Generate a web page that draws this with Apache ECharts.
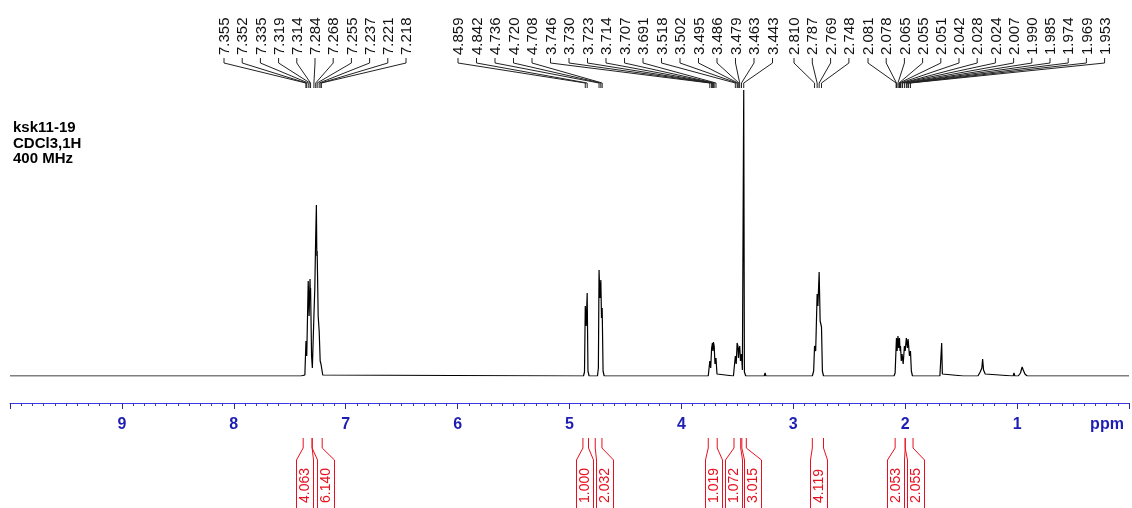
<!DOCTYPE html>
<html>
<head>
<meta charset="utf-8">
<script src="https://cdn.jsdelivr.net/npm/echarts@6/dist/echarts.min.js"></script>
<style>
html,body{margin:0;padding:0;background:#fff;}
#c{width:1132px;height:508px;}
</style>
</head>
<body>
<div id="c"></div>
<script>
// ---- data (ppm, intensity) ----
const spectrum = [
  [10.0,0],[7.40,0],[7.365,1],[7.355,35],[7.348,20],[7.335,95],[7.327,60],[7.319,97],[7.316,82],[7.314,88],[7.305,20],[7.298,8],
  [7.292,10],[7.284,60],[7.276,88],[7.268,140],[7.262,171],[7.258,120],[7.255,125],[7.246,60],[7.237,45],[7.228,15],[7.221,12],[7.218,10],[7.205,1],[7.19,0],
  [4.875,0],[4.866,4],[4.859,70],[4.851,50],[4.842,83],[4.835,5],[4.825,0],
  [4.75,0],[4.742,8],[4.736,106],[4.728,78],[4.720,96],[4.714,58],[4.708,68],[4.700,5],[4.69,0],
  [3.76,0],[3.746,15],[3.738,8],[3.730,28],[3.723,33],[3.718,25],[3.714,34],[3.707,30],[3.700,12],[3.691,18],[3.682,2],[3.67,0],
  [3.535,0],[3.518,20],[3.510,12],[3.502,33],[3.495,30],[3.490,18],[3.486,26],[3.479,30],[3.472,15],[3.463,22],[3.455,6],[3.449,4],[3.443,286],[3.437,4],[3.425,0],
  [3.26,0],[3.252,3],[3.245,0],
  [2.83,0],[2.818,5],[2.810,30],[2.800,25],[2.787,82],[2.780,70],[2.769,104],[2.760,55],[2.748,49],[2.740,5],[2.73,0],
  [2.10,0],[2.090,3],[2.081,30],[2.078,38],[2.072,25],[2.065,40],[2.058,28],[2.055,35],[2.051,38],[2.046,25],[2.042,30],[2.035,15],
  [2.028,22],[2.024,20],[2.018,12],[2.007,30],[2.000,25],[1.990,38],[1.985,40],[1.980,28],[1.974,37],[1.969,39],[1.962,20],[1.953,25],[1.945,5],[1.935,0],
  [1.69,0],[1.68,2],[1.674,33],[1.668,2],[1.66,0],
  [1.48,0],[1.472,2],[1.465,0],
  [1.35,0],[1.33,4],[1.315,8],[1.308,17],[1.300,6],[1.285,2],[1.27,0],
  [1.035,0],[1.028,3],[1.02,0],
  [0.99,0],[0.97,3],[0.955,9],[0.945,6],[0.93,2],[0.91,0],[0.0,0]
];
const shiftsA = [7.355,7.352,7.335,7.319,7.314,7.284,7.268,7.255,7.237,7.221,7.218];
const shiftsB = [4.859,4.842,4.736,4.720,4.708,3.746,3.730,3.723,3.714,3.707,3.691,3.518,3.502,3.495,3.486,3.479,3.463,3.443];
const shiftsC = [2.810,2.787,2.769,2.748];
const shiftsD = [2.081,2.078,2.065,2.055,2.051,2.042,2.028,2.024,2.007,1.990,1.985,1.974,1.969,1.953];
const integralLabels = ['4.063','6.140','1.000','2.032','1.019','1.072','3.015','4.119','2.053','2.055'];
const integralRanges = [[7.38,7.30],[7.30,7.21],[4.88,4.83],[4.77,4.71],[3.76,3.68],[3.53,3.47],[3.46,3.42],[2.83,2.73],[2.09,2.00],[2.00,1.93]];
const titleLines = ['ksk11-19','CDCl3,1H','400 MHz'];
const tickLabels = {1:'1',2:'2',3:'3',4:'4',5:'5',6:'6',7:'7',8:'8',9:'9'};

// ---- layout (pixels) ----
const labelGroups = [ {shifts:shiftsA, x0:225, step:18.2}, {shifts:shiftsB, x0:459, step:18.5}, {shifts:shiftsC, x0:795, step:18.3}, {shifts:shiftsD, x0:869, step:18.2} ];
const integralCenters = [305,326,585,605,714,734,753,819,896,916];
const FONT = '"Liberation Sans", Arial, Helvetica, sans-serif';
const BLUE_LINE = '#3b3be6';
const BLUE_TEXT = '#1e1eb4';
const RED = '#e8101e';

const chart = echarts.init(document.getElementById('c'), null, {renderer:'canvas'});
chart.setOption({
  animation:false,
  backgroundColor:'#fff',
  grid:{left:10, right:2, top:76, bottom:132, containLabel:false},
  xAxis:{
    type:'value', min:0, max:10, interval:1, inverse:true, offset:27,
    axisLine:{show:true, onZero:false, lineStyle:{color:BLUE_LINE, width:1}},
    axisTick:{show:true, length:6, lineStyle:{color:'#2a2a9a', width:1}},
    minorTick:{show:true, splitNumber:10, length:3, lineStyle:{color:'#3a3ab8', width:1}},
    splitLine:{show:false},
    axisLabel:{margin:14, fontSize:16, fontWeight:'bold', fontFamily:FONT, color:BLUE_TEXT,
      formatter:function(v){ return tickLabels[Math.round(v)] || ''; }}
  },
  yAxis:{type:'value', min:0, max:300, show:false},
  series:[{
    type:'line', data:spectrum, showSymbol:false, symbol:'none', smooth:false,
    lineStyle:{color:'#000', width:1.2}, clip:true
  }]
});

function px(ppm){ return chart.convertToPixel({gridIndex:0}, [ppm,0])[0]; }

const g = [];
titleLines.forEach(function(t,i){
  g.push({type:'text', x:13, y:128+i*15.5, style:{text:t, fontSize:15, fontWeight:'bold', fontFamily:FONT, fill:'#000', align:'left', verticalAlign:'middle'}});
});
g.push({type:'text', x:1107, y:425, style:{text:'ppm', fontSize:16, fontWeight:'bold', fontFamily:FONT, fill:BLUE_TEXT, align:'center', verticalAlign:'middle'}});

labelGroups.forEach(function(grp){
  grp.shifts.forEach(function(s,i){
    const xl = grp.x0 + i*grp.step;
    const xp = px(s);
    g.push({type:'text', x:xl, y:55, rotation:Math.PI/2,
      style:{text:s.toFixed(3), fontSize:15, fontFamily:FONT, fill:'#111', align:'left', verticalAlign:'middle'}});
    g.push({type:'polyline', shape:{points:[[xl-1,58],[xl-1,63],[xp,83],[xp,88]]},
      style:{stroke:'#222', fill:null, lineWidth:1}});
  });
});

integralLabels.forEach(function(lab,i){
  const c = integralCenters[i];
  const xa = px(integralRanges[i][0]);
  const xb = px(integralRanges[i][1]);
  const hw = 8.5;
  g.push({type:'polyline', shape:{points:[[xa,438],[xa,448],[c-hw,460],[c-hw,508]]}, style:{stroke:RED, fill:null, lineWidth:1}});
  g.push({type:'polyline', shape:{points:[[xb,438],[xb,448],[c+hw,460],[c+hw,508]]}, style:{stroke:RED, fill:null, lineWidth:1}});
  g.push({type:'text', x:c, y:503, rotation:Math.PI/2,
    style:{text:lab, fontSize:14, fontFamily:FONT, fill:RED, align:'left', verticalAlign:'middle'}});
});

chart.setOption({graphic:{elements:g}});
</script>
</body>
</html>
